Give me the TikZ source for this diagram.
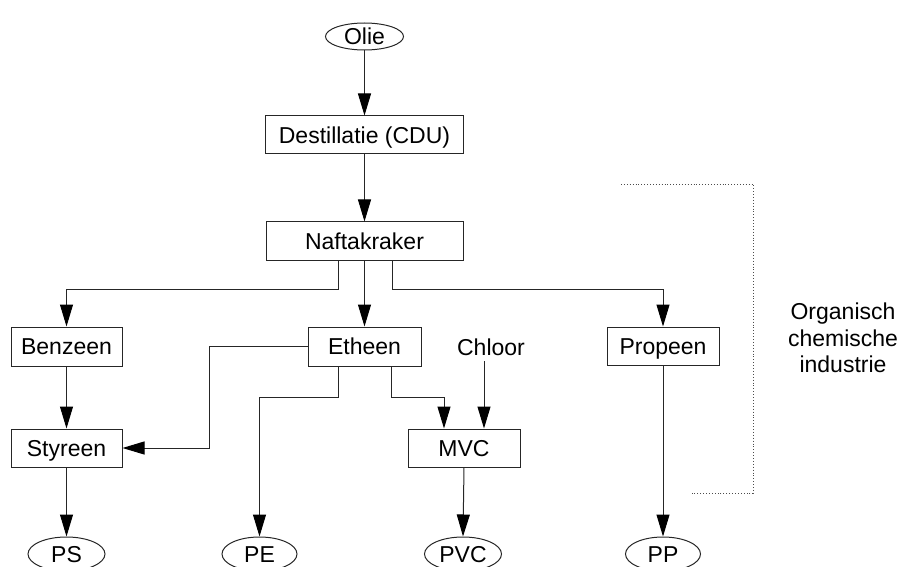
\documentclass[tikz,border=0pt]{standalone}
\usepackage{fontspec}
\setmainfont{Liberation Sans}
\usetikzlibrary{shapes.geometric,arrows.meta}
\tikzset{
  lbl/.style={font=\fontsize{23}{26.5}\selectfont, text height=16.5pt, text depth=0pt, inner sep=0pt},
  procbox/.style={lbl, draw=black!85, line width=1pt, rectangle, minimum height=38pt},
  endpt/.style={lbl, draw=black!85, line width=1pt, ellipse, minimum width=77pt},
  arr/.style={draw=black!85, line width=1pt, -{Triangle[length=22pt,width=13pt,color=black]}},
  bracket/.style={draw=black!70, line width=0.9pt, dotted}
}
\begin{document}
\begin{tikzpicture}[x=1pt,y=-1pt]
\clip (0,0) rectangle (903,567);
\useasboundingbox (0,0) rectangle (903,567);
% nodes
\node[endpt, minimum width=78pt, minimum height=27pt] (olie) at (364.5,36.5) {Olie};
\node[procbox, minimum width=198pt] (dest) at (364.5,135) {Destillatie (CDU)};
\node[procbox, minimum width=197pt] (naft) at (364.5,241) {Naftakraker};
\node[procbox, minimum width=111pt, minimum height=39pt] (benz) at (66.5,346.5) {Benzeen};
\node[procbox, minimum width=113pt, minimum height=39pt] (eth) at (364.5,346.5) {Etheen};
\node[lbl, inner sep=6pt] (chl) at (491,347) {Chloor};
\node[procbox, minimum width=112pt] (prop) at (663,346) {Propeen};
\node[procbox, minimum width=111pt] (sty) at (66.5,448) {Styreen};
\node[procbox, minimum width=112pt] (mvc) at (464,448) {MVC};
\node[endpt, minimum height=34pt] (ps) at (66.5,554) {PS};
\node[endpt, minimum width=75pt, minimum height=34pt] (pe) at (259.5,554) {PE};
\node[endpt, minimum height=34pt] (pvc) at (463,554) {PVC};
\node[endpt, minimum width=75pt, minimum height=34pt] (pp) at (663,554) {PP};
\node[font=\fontsize{23}{26.5}\selectfont, align=center, inner sep=0pt] (org) at (843,338) {Organisch\\chemische\\industrie};
% connectors
\draw[arr] (olie.south) -- (dest.north);
\draw[arr] (dest.south) -- (naft.north);
\draw[arr] ([xshift=-26.5pt]naft.south) -- ++(0,29) -| (benz.north);
\draw[arr] (naft.south) -- (eth.north);
\draw[arr] ([xshift=27.5pt]naft.south) -- ++(0,29) -| (prop.north);
\draw[arr] (benz.south) -- (sty.north);
\draw[arr] (eth.west) -- ++(-98,0) |- (sty.east);
\draw[arr] ([xshift=-26.5pt]eth.south) -- ++(0,31) -| (pe.north);
\draw[arr] ([xshift=26.5pt]eth.south) -- ++(0,31) -| ([xshift=-20pt]mvc.north);
\draw[arr] ([xshift=-7pt]chl.south) -- ([xshift=20pt]mvc.north);
\draw[arr] (mvc.south) -- (pvc.north);
\draw[arr] (sty.south) -- (ps.north);
\draw[arr] (prop.south) -- (pp.north);
% dotted bracket
\coordinate (bt) at (621,184);
\coordinate (bc1) at (753,184);
\coordinate (bc2) at (753,493);
\coordinate (bb) at (692,493);
\draw[bracket] (bt) -- (bc1) -- (bc2) -- (bb);
\end{tikzpicture}
\end{document}
